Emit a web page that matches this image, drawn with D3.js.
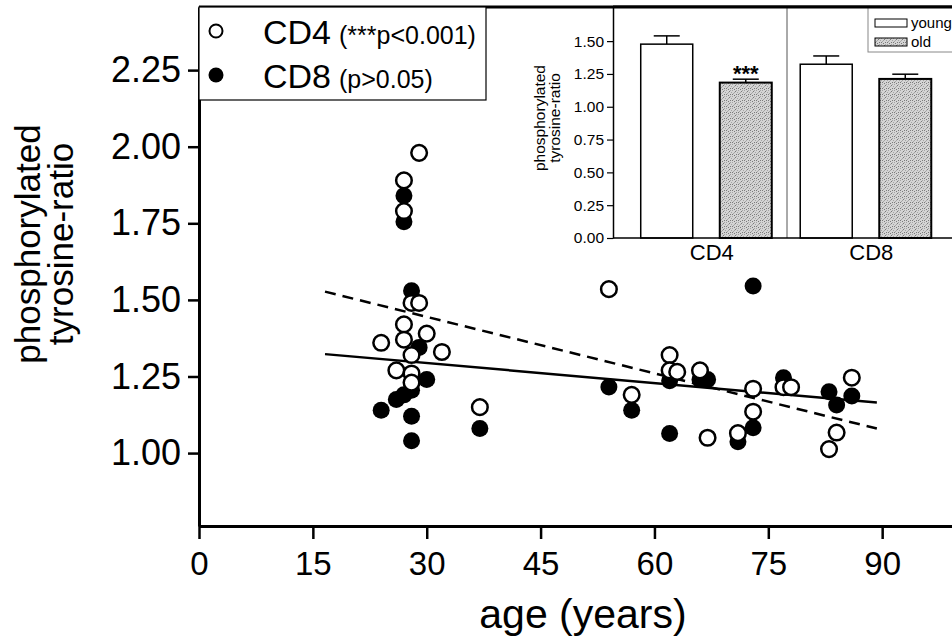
<!DOCTYPE html>
<html><head><meta charset="utf-8">
<script src="https://cdn.jsdelivr.net/npm/d3@7"></script>
<style>
html,body{margin:0;padding:0;background:#fff;}
svg{display:block;font-family:"Liberation Sans",Arial,Helvetica,sans-serif;}
</style></head>
<body>
<svg id="chart" width="952" height="638"></svg>
<script>
// ---- main scatter data (age in years, phosphorylated tyrosine ratio) ----
const cd4Age = [27, 27, 29, 28, 29, 27, 30, 24, 27, 32, 28, 26, 28, 28, 37,
                54, 57, 62, 62, 63, 66, 67, 71, 73, 73, 77, 78, 83, 84, 86];
const cd4Val = [1.89, 1.79, 1.98, 1.49, 1.49, 1.42, 1.39, 1.36, 1.37, 1.33, 1.32, 1.27, 1.26, 1.23, 1.15,
                1.535, 1.19, 1.32, 1.27, 1.265, 1.27, 1.05, 1.065, 1.21, 1.135, 1.215, 1.215, 1.013, 1.067, 1.246];
const cd8Age = [27, 27, 28, 29, 30, 28, 27, 26, 24, 28, 28, 37,
                54, 57, 62, 62, 66, 67, 71, 73, 73, 77, 83, 84, 86];
const cd8Val = [1.84, 1.755, 1.53, 1.345, 1.24, 1.205, 1.19, 1.175, 1.14, 1.12, 1.04, 1.08,
                1.216, 1.14, 1.236, 1.064, 1.24, 1.24, 1.037, 1.545, 1.083, 1.246, 1.20, 1.157, 1.186];
// regression lines: [age start, value start, age end, value end]
const fitCD4 = [16.6, 1.527, 89.3, 1.080];   // dashed
const fitCD8 = [16.6, 1.323, 89.3, 1.165];   // solid
const xTicks = [0, 15, 30, 45, 60, 75, 90];
const yTicks = [1.00, 1.25, 1.50, 1.75, 2.00, 2.25];

// ---- inset bar data ----
const insetCats = ["CD4", "CD8"];
const insetGroups = ["young", "old"];
const insetMean = {CD4: [1.477, 1.184], CD8: [1.324, 1.212]};
const insetErr  = {CD4: [0.063, 0.026], CD8: [0.063, 0.036]};
const insetTicks = [0.00, 0.25, 0.50, 0.75, 1.00, 1.25, 1.50];

const svg = d3.select("#chart");

// stipple pattern for "old" bars
const defs = svg.append("defs");
const pat = defs.append("pattern").attr("id","stip").attr("patternUnits","userSpaceOnUse")
  .attr("width",6).attr("height",6);
pat.append("rect").attr("width",6).attr("height",6).attr("fill","#d4d4d4");
[[0,0],[3,1],[1,3],[4,4],[5,2],[2,5],[4,0],[0,4],[2,2]].forEach((p,i)=>{
  pat.append("rect").attr("x",p[0]).attr("y",p[1]).attr("width",1).attr("height",1)
    .attr("fill", i%2 ? "#7a7a7a" : "#a4a4a4");
});

// ---- main scales ----
const x = d3.scaleLinear().domain([0, 99.2]).range([199, 952]);
const y = d3.scaleLinear().domain([0.762, 2.456]).range([526, 7]);

// frame top line
svg.append("line").attr("x1",199).attr("x2",952).attr("y1",7).attr("y2",7)
  .attr("stroke","#000").attr("stroke-width",3);

// axes
const gx = svg.append("g").attr("transform","translate(0,526)")
  .call(d3.axisBottom(x).tickValues(xTicks).tickSizeInner(13).tickSizeOuter(0).tickPadding(6).tickFormat(d3.format("d")));
const gy = svg.append("g").attr("transform","translate(199,0)")
  .call(d3.axisLeft(y).tickValues(yTicks).tickSizeInner(11).tickSizeOuter(0).tickPadding(7).tickFormat(d3.format(".2f")));
[gx, gy].forEach(g=>{
  g.select(".domain").attr("stroke","#000").attr("stroke-width",3);
  g.selectAll(".tick line").attr("stroke","#000").attr("stroke-width",2.5);
  g.selectAll(".tick text").attr("fill","#000")
    .attr("font-family","\"Liberation Sans\",Arial,sans-serif");
});
gx.selectAll(".tick text").attr("font-size",33).attr("dy","0.9em");
gy.selectAll(".tick text").attr("font-size",36);

// axis titles
svg.append("text").attr("x",583).attr("y",628).attr("text-anchor","middle")
  .attr("font-size",41).text("age (years)");
const yt = svg.append("text").attr("transform","translate(0,244) rotate(-90)")
  .attr("text-anchor","middle").attr("font-size",35);
yt.append("tspan").attr("x",0).attr("y",40).text("phosphorylated");
yt.append("tspan").attr("x",0).attr("y",73).text("tyrosine-ratio");

// regression lines
const lineFits = [{f: fitCD4, dash: "11,7"}, {f: fitCD8, dash: null}];
svg.append("g").selectAll("line").data(lineFits).join("line")
  .attr("x1", d=>x(d.f[0])).attr("y1", d=>y(d.f[1]))
  .attr("x2", d=>x(d.f[2])).attr("y2", d=>y(d.f[3]))
  .attr("stroke","#000").attr("stroke-width",2.5)
  .attr("stroke-dasharray", d=>d.dash);

// points
const cd8 = cd8Age.map((a,i)=>({a, v: cd8Val[i]}));
const cd4 = cd4Age.map((a,i)=>({a, v: cd4Val[i]}));
svg.append("g").selectAll("circle").data(cd8).join("circle")
  .attr("cx", d=>x(d.a)).attr("cy", d=>y(d.v)).attr("r",8.5).attr("fill","#000");
svg.append("g").selectAll("circle").data(cd4).join("circle")
  .attr("cx", d=>x(d.a)).attr("cy", d=>y(d.v)).attr("r",7.8)
  .attr("fill","#fff").attr("stroke","#000").attr("stroke-width",2.5);

// legend
svg.append("rect").attr("x",199).attr("y",7).attr("width",287).attr("height",93)
  .attr("fill","#fff").attr("stroke","#000").attr("stroke-width",1.2);
svg.append("circle").attr("cx",216).attr("cy",31).attr("r",6.5).attr("fill","#fff").attr("stroke","#000").attr("stroke-width",2);
svg.append("circle").attr("cx",216).attr("cy",75).attr("r",7.5).attr("fill","#000");
const l1 = svg.append("text").attr("x",263).attr("y",44);
l1.append("tspan").attr("font-size",34).text("CD4");
l1.append("tspan").attr("font-size",25).attr("dx",8).text("(***p<0.001)");
const l2 = svg.append("text").attr("x",263).attr("y",88);
l2.append("tspan").attr("font-size",34).text("CD8");
l2.append("tspan").attr("font-size",25).attr("dx",8).text("(p>0.05)");

// ---- inset ----
const iy = d3.scaleLinear().domain([0, 1.76]).range([238, 7]);
const ix = d3.scaleBand().domain(insetCats).range([626.5, 945.5]);
const ixi = d3.scaleBand().domain(insetGroups).range([0, ix.bandwidth()])
  .paddingInner(0.342).paddingOuter(0.18);

const inset = svg.append("g");
inset.append("rect").attr("x",613).attr("y",7).attr("width",339).attr("height",231).attr("fill","#fff");
svg.append("line").attr("x1",613).attr("x2",952).attr("y1",7).attr("y2",7)
  .attr("stroke","#000").attr("stroke-width",3);
inset.append("line").attr("x1",787).attr("x2",787).attr("y1",7).attr("y2",238)
  .attr("stroke","#555").attr("stroke-width",1);

const bars = [];
insetCats.forEach(c=>insetGroups.forEach((g,j)=>bars.push({c, g, v: insetMean[c][j], e: insetErr[c][j]})));
const bg = inset.append("g");
bg.selectAll("line.err").data(bars).join("line").attr("class","err")
  .attr("x1", d=>ix(d.c)+ixi(d.g)+ixi.bandwidth()/2).attr("x2", d=>ix(d.c)+ixi(d.g)+ixi.bandwidth()/2)
  .attr("y1", d=>iy(d.v)).attr("y2", d=>iy(d.v+d.e)).attr("stroke","#000").attr("stroke-width",1.5);
bg.selectAll("line.cap").data(bars).join("line").attr("class","cap")
  .attr("x1", d=>ix(d.c)+ixi(d.g)+ixi.bandwidth()/2-13).attr("x2", d=>ix(d.c)+ixi(d.g)+ixi.bandwidth()/2+13)
  .attr("y1", d=>iy(d.v+d.e)).attr("y2", d=>iy(d.v+d.e)).attr("stroke","#000").attr("stroke-width",1.5);
bg.selectAll("rect").data(bars).join("rect")
  .attr("x", d=>ix(d.c)+ixi(d.g)).attr("width", ixi.bandwidth())
  .attr("y", d=>iy(d.v)).attr("height", d=>iy(0)-iy(d.v))
  .attr("fill", d=>d.g==="old" ? "url(#stip)" : "#fff")
  .attr("stroke","#000").attr("stroke-width", d=>d.g==="old" ? 2 : 1.5);

inset.append("text").attr("x", ix("CD4")+ixi("old")+ixi.bandwidth()/2).attr("y",81)
  .attr("text-anchor","middle").attr("font-size",22).attr("font-weight","bold").text("***");

const giy = inset.append("g").attr("transform","translate(613,0)")
  .call(d3.axisLeft(iy).tickValues(insetTicks).tickSizeInner(6).tickSizeOuter(0).tickPadding(3).tickFormat(d3.format(".2f")));
giy.select(".domain").attr("stroke","#000").attr("stroke-width",1.5);
giy.selectAll(".tick line").attr("stroke","#000").attr("stroke-width",1.2);
giy.selectAll(".tick text").attr("fill","#000").attr("font-size",15.5)
  .attr("font-family","\"Liberation Sans\",Arial,sans-serif");

const gix = inset.append("g").attr("transform","translate(0,238)")
  .call(d3.axisBottom(ix).tickSize(0).tickPadding(6));
gix.select(".domain").remove();
inset.append("line").attr("x1",613).attr("x2",952).attr("y1",238).attr("y2",238)
  .attr("stroke","#000").attr("stroke-width",1.5);
gix.selectAll(".tick text").attr("fill","#000").attr("font-size",22)
  .attr("font-family","\"Liberation Sans\",Arial,sans-serif").attr("dx","0.25em");

const iyt = inset.append("text").attr("transform","translate(0,118) rotate(-90)")
  .attr("text-anchor","middle").attr("font-size",15.5);
iyt.append("tspan").attr("x",0).attr("y",545).text("phosphorylated");
iyt.append("tspan").attr("x",0).attr("y",560).text("tyrosine-ratio");

// inset legend
inset.append("rect").attr("x",868).attr("y",7).attr("width",90).attr("height",45)
  .attr("fill","#fff").attr("stroke","#888").attr("stroke-width",1);
const ileg = inset.append("g").selectAll("g").data(insetGroups).join("g")
  .attr("transform",(d,i)=>`translate(875,${19+i*19})`);
ileg.append("rect").attr("width",32).attr("height",8)
  .attr("fill", d=>d==="old" ? "url(#stip)" : "#fff").attr("stroke","#000").attr("stroke-width",1);
ileg.append("text").attr("x",36).attr("y",9).attr("font-size",15).text(d=>d);
</script>
</body></html>
